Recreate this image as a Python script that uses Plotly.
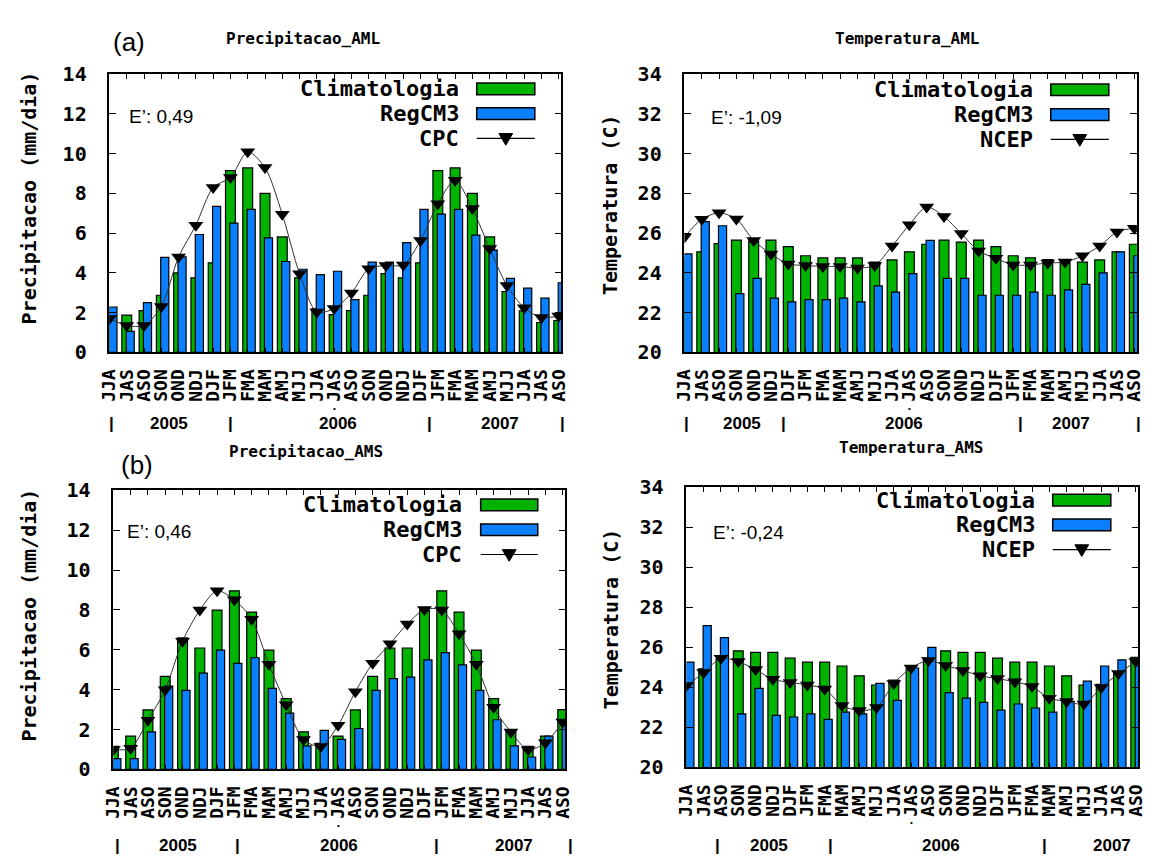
import plotly.graph_objects as go

W, H = 1169, 864

# ---------------------------------------------------------------- data
periods = ["JJA", "JAS", "ASO", "SON", "OND", "NDJ", "DJF", "JFM", "FMA", "MAM", "AMJ", "MJJ",
           "JJA", "JAS", "ASO", "SON", "OND", "NDJ", "DJF", "JFM", "FMA", "MAM", "AMJ", "MJJ",
           "JJA", "JAS", "ASO"]
years = ["2005", "2006", "2007"]

# Precipitacao AML (mm/dia)
prec_aml_clim = [2.2, 1.87, 2.1, 2.87, 4.0, 3.75, 4.5, 9.15, 9.28, 8.0, 5.81, 3.75, 2.2, 1.9,
                 2.1, 2.87, 3.96, 3.75, 4.5, 9.15, 9.28, 8.0, 5.81, 3.06, 2.08, 1.5, 1.6]
prec_aml_regcm = [2.28, 1.05, 2.5, 4.78, 4.8, 5.93, 7.35, 6.5, 7.19, 5.76, 4.57, 4.18, 3.91, 4.08,
                  2.65, 4.54, 4.54, 5.52, 7.19, 6.96, 7.19, 5.9, 5.14, 3.72, 3.23, 2.73, 3.5]
prec_aml_cpc = [1.7, 1.35, 1.35, 2.3, 4.8, 6.4, 8.3, 8.8, 10.1, 9.3, 6.95, 3.96, 2.03, 2.2,
                2.98, 4.2, 4.37, 4.4, 5.63, 7.48, 8.66, 7.24, 5.22, 3.36, 2.24, 1.75, 1.83]

# Temperatura AML (C)
temp_aml_clim = [24.65, 25.06, 25.47, 25.65, 25.6, 25.65, 25.32, 24.86, 24.75, 24.75, 24.75, 24.54,
                 24.65, 25.06, 25.44, 25.65, 25.55, 25.65, 25.32, 24.86, 24.75, 24.67, 24.54, 24.54,
                 24.65, 25.06, 25.44]
temp_aml_regcm = [24.95, 26.58, 26.37, 22.95, 23.72, 22.73, 22.54, 22.65, 22.65, 22.73, 22.54, 23.34,
                  23.03, 23.96, 25.63, 23.72, 23.72, 22.87, 22.87, 22.87, 23.03, 22.87, 23.14, 23.42,
                  24.0, 25.06, 24.86]
temp_aml_ncep = [25.8, 26.7, 27.02, 26.71, 25.63, 24.95, 24.45, 24.37, 24.32, 24.32, 24.24, 24.37,
                 25.35, 26.42, 27.32, 26.83, 25.98, 25.1, 24.73, 24.4, 24.4, 24.5, 24.54, 24.86,
                 25.35, 26.06, 26.25]

# Precipitacao AMS (mm/dia)
prec_ams_clim = [1.15, 1.67, 2.98, 4.67, 6.6, 6.09, 7.99, 8.96, 7.89, 5.98, 3.55, 1.88, 1.3, 1.67,
                 2.98, 4.67, 6.09, 6.09, 7.99, 8.96, 7.89, 5.98, 3.55, 1.96, 1.15, 1.67, 3.0]
prec_ams_regcm = [0.54, 0.54, 1.88, 4.18, 3.96, 4.83, 5.98, 5.32, 5.6, 4.06, 2.82, 1.18, 1.96, 1.5,
                  2.05, 3.96, 4.55, 4.63, 5.49, 5.86, 5.24, 3.96, 2.49, 1.18, 0.62, 1.67, 2.4]
prec_ams_cpc = [1.0, 1.06, 2.46, 4.0, 6.43, 7.99, 8.96, 8.51, 7.53, 5.27, 3.24, 1.5, 1.15, 2.21,
                3.9, 5.32, 6.3, 7.29, 8.02, 7.99, 6.8, 5.27, 3.11, 1.88, 0.98, 1.34, 2.37]

# Temperatura AMS (C)
temp_ams_clim = [24.2, 24.93, 25.42, 25.83, 25.75, 25.75, 25.46, 25.26, 25.26, 25.07, 24.58, 24.12,
                 24.36, 24.93, 25.46, 25.83, 25.75, 25.75, 25.46, 25.26, 25.26, 25.07, 24.58, 24.12,
                 24.15, 24.77, 25.5]
temp_ams_regcm = [25.26, 27.09, 26.49, 22.68, 23.95, 22.6, 22.52, 22.68, 22.4, 22.76, 22.68, 24.2,
                  23.35, 24.97, 26.0, 23.74, 23.46, 23.25, 22.86, 23.17, 22.97, 22.76, 23.3, 24.31,
                  25.07, 25.38, 25.2]
temp_ams_ncep = [24.1, 24.74, 25.46, 25.29, 24.89, 24.41, 24.25, 24.12, 23.92, 23.1, 22.84, 23.0,
                 24.2, 24.97, 25.34, 25.1, 24.85, 24.58, 24.44, 24.28, 24.04, 23.46, 23.3, 23.17,
                 23.99, 24.69, 25.29]

# ---------------------------------------------------------------- style
GREEN = "#00b300"
BLUE = "#0a80ff"
MONO = "DejaVu Sans Mono"
SANS = "Liberation Sans"


def px(x):
    return x / W


def py(y):
    return 1 - y / H


def label(text, x, y, size, family=MONO, bold=True, **kw):
    """Free text placed in pixel coordinates of the page."""
    d = dict(text=text, x=px(x), y=py(y), xref="paper", yref="paper", showarrow=False,
             xanchor="center", yanchor="middle",
             font=dict(family=family, size=size, color="black",
                       weight="bold" if bold else "normal"))
    d.update(kw)
    return d


panels = [
    dict(ax="", box=(100, 64, 559, 350), yr=(0, 14), title="Precipitacao_AML", title_xy=(297, 27),
         ylab="Precipitacao (mm/dia)", ylab_xy=(18, 191), obs="CPC", err="E’: 0,49", err_xy=(118, 107),
         leg=(457, 79, 473, 532), tag="(a)", tag_xy=(120, 31),
         yr_marks=(102, 223, 425, 560), yr_text=(160, 332, 497), yr_y=423, dot_y=408,
         data=(prec_aml_clim, prec_aml_regcm, prec_aml_cpc)),
    dict(ax="2", box=(684, 64, 1143.5, 350), yr=(20, 34), title="Temperatura_AML", title_xy=(911, 27),
         ylab="Temperatura (C)", ylab_xy=(609, 198), obs="NCEP", err="E’: -1,09", err_xy=(709, 108),
         leg=(1040, 80, 1056, 1115), tag=None, tag_xy=None,
         yr_marks=(686, 785, 1025, 1145), yr_text=(742, 907, 1077), yr_y=423, dot_y=408,
         data=(temp_aml_clim, temp_aml_regcm, temp_aml_ncep)),
    dict(ax="3", box=(104, 492, 563, 779), yr=(0, 14), title="Precipitacao_AMS", title_xy=(300, 452),
         ylab="Precipitacao (mm/dia)", ylab_xy=(18, 620), obs="CPC", err="E’: 0,46", err_xy=(116, 534),
         leg=(460, 507, 477, 535), tag="(b)", tag_xy=(128, 466),
         yr_marks=(108, 230, 432, 568), yr_text=(170, 333, 511), yr_y=857, dot_y=837,
         data=(prec_ams_clim, prec_ams_regcm, prec_ams_cpc)),
    dict(ax="4", box=(686, 489, 1145, 777), yr=(20, 34), title="Temperatura_AMS", title_xy=(915, 448),
         ylab="Temperatura (C)", ylab_xy=(609, 624), obs="NCEP", err="E’: -0,24", err_xy=(711, 535),
         leg=(1042, 502, 1058, 1117), tag=None, tag_xy=None,
         yr_marks=(718, 832, 1050, None), yr_text=(770, 945, 1118), yr_y=857, dot_y=834,
         data=(temp_ams_clim, temp_ams_regcm, temp_ams_ncep)),
]

fig = go.Figure()
annotations = []
shapes = []
layout = dict(width=W, height=H, margin=dict(l=0, r=0, t=0, b=0),
              paper_bgcolor="white", plot_bgcolor="white", showlegend=False,
              barmode="overlay")

xidx = list(range(len(periods)))

for p in panels:
    a = p["ax"]
    xa, ya = "x" + a, "y" + a
    clim, regcm, obs = p["data"]

    fig.add_trace(go.Bar(x=xidx, y=clim, width=0.57, offset=-0.285, xaxis=xa, yaxis=ya,
                         marker=dict(color=GREEN, line=dict(color="black", width=1.2))))
    fig.add_trace(go.Bar(x=xidx, y=regcm, width=0.47, offset=-0.035, xaxis=xa, yaxis=ya,
                         marker=dict(color=BLUE, line=dict(color="black", width=1.2))))
    fig.add_trace(go.Scatter(x=xidx, y=obs, mode="lines+markers", xaxis=xa, yaxis=ya,
                             line=dict(color="#333333", width=1, shape="spline", smoothing=0.8),
                             marker=dict(symbol="triangle-down", size=13, color="black")))

    x0, y0, x1, y1 = p["box"]
    common = dict(showgrid=False, zeroline=False, showline=True, linecolor="black", linewidth=1.5,
                  mirror="allticks", ticks="inside", tickcolor="black", tickwidth=1.2)
    layout["xaxis" + a] = dict(common, domain=[px(x0), px(x1)], anchor=ya, range=[0.0, 26.15],
                               tickmode="array", tickvals=xidx, ticktext=periods, tickangle=-90,
                               ticklen=5, ticklabelstandoff=8,
                               tickfont=dict(family=MONO, size=18, color="black", weight="bold"))
    layout["yaxis" + a] = dict(common, domain=[py(y1), py(y0)], anchor=xa, range=list(p["yr"]),
                               dtick=2, ticklen=7, ticklabelstandoff=17,
                               tickfont=dict(family=MONO, size=20, color="black", weight="bold"))

    # title, axis label, error text
    annotations.append(label(p["title"], *p["title_xy"], 16))
    annotations.append(label(p["ylab"], *p["ylab_xy"], 20, textangle=-90))
    annotations.append(label(p["err"], *p["err_xy"], 19, family=SANS, bold=False, xanchor="left"))
    if p["tag"]:
        annotations.append(label(p["tag"], *p["tag_xy"], 26, family=SANS, bold=False))

    # year ruler under the month labels
    for m in p["yr_marks"]:
        if m is not None:
            annotations.append(label("|", m, p["yr_y"], 17, family=SANS))
    for yx, ytxt in zip(p["yr_text"], years):
        annotations.append(label(ytxt, yx, p["yr_y"], 17, family=SANS))
    annotations.append(dict(text="•", x=13, xref=xa, y=py(p["dot_y"]), yref="paper",
                            xanchor="center", yanchor="middle", showarrow=False,
                            font=dict(family=SANS, size=8, color="black")))

    # key
    tx, ty, sx0, sx1 = p["leg"]
    names = ["Climatologia", "RegCM3", p["obs"]]
    for k, name in enumerate(names):
        yy = ty + 25.5 * k
        annotations.append(label(name, tx, yy, 22, xanchor="right"))
        if k < 2:
            shapes.append(dict(type="rect", xref="paper", yref="paper",
                               x0=px(sx0), x1=px(sx1), y0=py(yy - 6), y1=py(yy + 6),
                               fillcolor=[GREEN, BLUE][k], line=dict(color="black", width=1.5)))
        else:
            shapes.append(dict(type="line", xref="paper", yref="paper",
                               x0=px(sx0), x1=px(sx1), y0=py(yy), y1=py(yy),
                               line=dict(color="black", width=1.2)))
            mx = (sx0 + sx1) / 2
            shapes.append(dict(type="path", xref="paper", yref="paper",
                               path=f"M {px(mx - 7)},{py(yy - 5)} L {px(mx + 7)},{py(yy - 5)} "
                                    f"L {px(mx)},{py(yy + 7)} Z",
                               fillcolor="black", line=dict(color="black", width=1)))

layout["annotations"] = annotations
layout["shapes"] = shapes
fig.update_layout(**layout)
fig.write_html("out.html")
